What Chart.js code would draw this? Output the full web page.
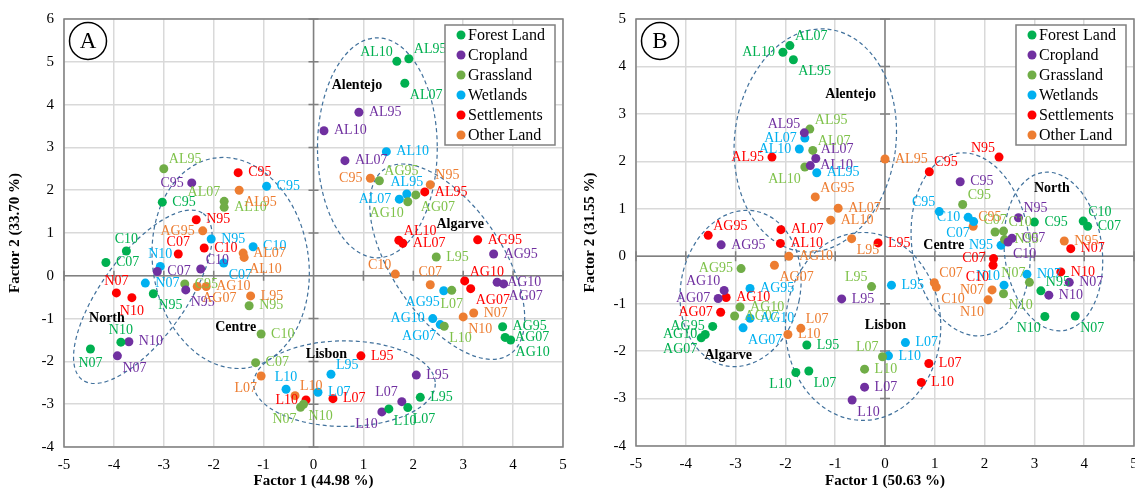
<!DOCTYPE html>
<html>
<head>
<meta charset="utf-8">
<script src="https://cdn.jsdelivr.net/npm/chart.js@4.4.1/dist/chart.umd.min.js"></script>
<style>
  body { margin: 0; background: #fff; }
  #wrap { position: relative; width: 1135px; height: 490px; overflow: hidden; }
  canvas { position: absolute; top: 0; }
</style>
</head>
<body>
<div id="wrap">
  <canvas id="chartA" width="570" height="490" style="left:0"></canvas>
  <canvas id="chartB" width="567" height="490" style="left:568px"></canvas>
</div>
<script>
const categories = ['Forest Land', 'Cropland', 'Grassland', 'Wetlands', 'Settlements', 'Other Land'];
const dotColors = ['#00b050', '#7030a0', '#70ad47', '#00b0f0', '#ff0000', '#ed7d31'];
const textColors = ['#00b050', '#7030a0', '#7fc24a', '#00b0f0', '#ff0000', '#ed7d31'];
const xTicks = [-5, -4, -3, -2, -1, 0, 1, 2, 3, 4, 5];
const yTicksA = [-4, -3, -2, -1, 0, 1, 2, 3, 4, 5, 6];
const yTicksB = [-4, -3, -2, -1, 0, 1, 2, 3, 4, 5];

// ---- panel A : [factor1, factor2, name]
const forestA = [[1.67,5.01,'AL10'],[1.91,5.07,'AL95'],[1.83,4.50,'AL07'],[-3.03,1.72,'C95'],[-3.75,0.58,'C10'],[-4.16,0.31,'C07'],[-3.21,-0.42,'N95'],[-3.86,-1.55,'N10'],[-4.47,-1.71,'N07'],[2.14,-2.84,'L95'],[1.89,-3.08,'L07'],[1.51,-3.11,'L10'],[3.79,-1.19,'AG95'],[3.84,-1.44,'AG07'],[3.95,-1.50,'AG10']];
const croplandA = [[0.91,3.82,'AL95'],[0.21,3.39,'AL10'],[0.63,2.69,'AL07'],[-2.44,2.17,'C95'],[-3.13,0.10,'C07'],[-2.26,0.16,'C10'],[-2.56,-0.33,'N95'],[-3.70,-1.54,'N10'],[-3.93,-1.87,'N07'],[2.06,-2.32,'L95'],[1.77,-2.94,'L07'],[1.37,-3.18,'L10'],[3.61,0.51,'AG95'],[3.68,-0.15,'AG10'],[3.81,-0.19,'AG07']];
const grasslandA = [[-3.00,2.50,'AL95'],[-1.79,1.74,'AL07'],[-1.79,1.60,'AL10'],[-2.58,-0.19,'C95'],[-1.29,-0.70,'N95'],[-1.05,-1.36,'C10'],[-1.16,-2.03,'C07'],[-0.26,-3.07,'N07'],[-0.20,-3.00,'N10'],[1.32,2.22,'AG95'],[2.05,1.89,'AG07'],[1.89,1.73,'AG10'],[2.46,0.44,'L95'],[2.77,-0.34,'L07'],[2.62,-1.18,'L10']];
const wetlandsA = [[-0.94,2.09,'C95'],[-2.05,0.86,'N95'],[-1.21,0.68,'C10'],[-1.80,0.30,'C07'],[-3.07,0.22,'N10'],[-3.37,-0.17,'N07'],[1.46,2.90,'AL10'],[1.87,1.91,'AL95'],[1.72,1.79,'AL07'],[2.61,-0.35,'AG95'],[2.39,-1.00,'AG10'],[2.54,-1.14,'AG07'],[0.35,-2.30,'L95'],[0.09,-2.72,'L07'],[-0.55,-2.65,'L10']];
const settlementsA = [[-1.51,2.41,'C95'],[-2.35,1.31,'N95'],[-2.71,0.51,'C07'],[-2.19,0.65,'C10'],[-3.95,-0.40,'N07'],[-3.64,-0.51,'N10'],[2.23,1.96,'AL95'],[1.71,0.83,'AL10'],[1.79,0.76,'AL07'],[3.29,0.84,'AG95'],[3.03,-0.12,'AG10'],[3.15,-0.30,'AG07'],[0.95,-1.87,'L95'],[0.39,-2.87,'L07'],[-0.15,-2.90,'L10']];
const otherA = [[-1.49,2.00,'AL95'],[-2.22,1.05,'AG95'],[-1.41,0.53,'AL07'],[-1.39,0.43,'AL10'],[-2.15,-0.25,'AG10'],[-2.33,-0.25,'AG07'],[-1.26,-0.47,'L95'],[-1.05,-2.34,'L07'],[-0.37,-2.80,'L10'],[1.14,2.28,'C95'],[2.34,2.13,'N95'],[1.64,0.04,'C10'],[2.34,-0.21,'C07'],[3.21,-0.87,'N07'],[3.00,-0.96,'N10']];

// ---- panel B
const forestB = [[-2.05,4.30,'AL10'],[-1.91,4.44,'AL07'],[-1.84,4.14,'AL95'],[-3.46,-1.48,'AG95'],[-3.61,-1.65,'AG10'],[-3.69,-1.72,'AG07'],[-1.57,-1.87,'L95'],[-1.79,-2.45,'L10'],[-1.53,-2.42,'L07'],[3.00,0.72,'C95'],[3.98,0.74,'C10'],[4.07,0.63,'C07'],[3.13,-0.73,'N95'],[3.21,-1.27,'N10'],[3.82,-1.26,'N07']];
const croplandB = [[-1.62,2.60,'AL95'],[-1.39,2.06,'AL07'],[-1.50,1.91,'AL10'],[-3.29,0.24,'AG95'],[-3.23,-0.72,'AG10'],[-3.35,-0.89,'AG07'],[-0.87,-0.90,'L95'],[-0.41,-2.76,'L07'],[-0.66,-3.03,'L10'],[1.51,1.57,'C95'],[2.68,0.81,'N95'],[2.55,0.38,'C07'],[2.47,0.30,'C10'],[3.29,-0.82,'N10'],[3.70,-0.55,'N07']];
const grasslandB = [[-1.51,2.68,'AL95'],[-1.45,2.23,'AL07'],[-1.61,1.88,'AL10'],[-2.89,-0.26,'AG95'],[-2.91,-1.07,'AG10'],[-3.02,-1.26,'AG07'],[-0.27,-0.64,'L95'],[-0.05,-2.12,'L07'],[-0.41,-2.38,'L10'],[1.56,1.09,'C95'],[2.21,0.51,'C07'],[2.38,0.53,'C10'],[2.40,0.35,'N95'],[2.90,-0.55,'N07'],[2.38,-0.79,'N10']];
const wetlandsB = [[-1.61,2.49,'AL07'],[-1.72,2.26,'AL10'],[-1.37,1.76,'AL95'],[-2.71,-0.68,'AG95'],[-2.71,-1.31,'AG10'],[-2.85,-1.51,'AG07'],[0.13,-0.61,'L95'],[0.41,-1.82,'L07'],[0.07,-2.10,'L10'],[1.09,0.94,'C95'],[1.67,0.82,'C10'],[1.78,0.73,'C07'],[2.33,0.23,'N95'],[2.39,-0.61,'N10'],[2.85,-0.38,'N07']];
const settlementsB = [[-2.27,2.09,'AL95'],[-2.09,0.56,'AL07'],[-2.10,0.27,'AL10'],[-3.55,0.44,'AG95'],[-3.19,-0.87,'AG10'],[-3.30,-1.18,'AG07'],[-0.14,0.28,'L95'],[0.88,-2.26,'L07'],[0.73,-2.66,'L10'],[0.89,1.78,'C95'],[2.29,2.09,'N95'],[2.18,-0.05,'C07'],[2.17,-0.19,'C10'],[3.53,-0.33,'N10'],[3.73,0.16,'N07']];
const otherB = [[0.00,2.05,'AL95'],[-1.40,1.25,'AG95'],[-0.94,1.01,'AL07'],[-1.09,0.76,'AL10'],[-1.93,0.00,'AG10'],[-2.22,-0.19,'AG07'],[-0.67,0.37,'L95'],[-1.69,-1.52,'L07'],[-1.95,-1.65,'L10'],[1.77,0.63,'C95'],[0.99,-0.56,'C07'],[1.03,-0.65,'C10'],[3.60,0.32,'N95'],[2.15,-0.71,'N07'],[2.07,-0.92,'N10']];

// where each name sits next to its dot (r, l, t, b, tr, tl, br, bl)
const placesA = [
  'tl tr br r t r br t b r br br r r br',
  'r r r l r tr br r br r tl bl r r br',
  'tr tl r r r r r bl br tr br bl r b br',
  'r r r br t r r t l bl l bl tr r t',
  'r r t r t b r tr r r tr br r r l',
  'br l r br r br r bl tr l tr tl t r br'
];
const placesB = [
  'l tr br l l bl r bl br r tr r tr bl br',
  'tl tr r r tl l r r br r tr r br r r',
  'tr tr bl l r r tl tl r tr t tr r tl br',
  'l l r r r br r r r tl l bl l tl r',
  'l r r tr r l r r r tr tl l bl r r',
  'r tr r r r br br tr r tr tr br r l bl'
];

// regional groupings: [centre x, centre y, half width (x units), half height (y units), tilt deg]
const ellipsesA = [[1.28,2.99,1.2,2.57,0],[2.68,0.33,2.24,1.29,56],[-1.66,0.30,1.56,2.48,-9],[-3.42,-0.49,2.06,0.98,-54],[0.62,-2.52,1.82,1.0,0]];
const ellipsesB = [[-1.40,2.44,1.62,2.36,7],[-2.90,-0.68,1.2,1.66,11],[-0.44,-1.48,1.56,1.98,0],[1.72,0.25,1.18,1.94,-8],[3.38,0.10,0.98,1.68,-7]];
const regionsA = [['Alentejo',0.87,4.46],['Algarve',2.94,1.21],['Lisbon',0.26,-1.83],['North',-4.14,-1.0],['Centre',-1.56,-1.2]];
const regionsB = [['Alentejo',-0.69,3.41],['Algarve',-3.15,-2.09],['Lisbon',0.01,-1.46],['Centre',1.18,0.23],['North',3.35,1.42]];

const SERIF = "'Liberation Serif', 'Times New Roman', serif";

function drawName(ctx, text, px, py, code) {
  let dx = 0, dy = 0, align = 'center';
  switch (code) {
    case 'r': dx = 10; align = 'left'; break;
    case 'l': dx = -8; align = 'right'; break;
    case 't': dy = -12; break;
    case 'b': dy = 14; break;
    case 'tr': dx = 5; dy = -9; align = 'left'; break;
    case 'tl': dx = -4; dy = -9; align = 'right'; break;
    case 'br': dx = 5; dy = 12; align = 'left'; break;
    case 'bl': dx = -4; dy = 12; align = 'right'; break;
  }
  ctx.textAlign = align;
  ctx.fillText(text, px + dx, py + dy);
}

function decor(panel) {
  return {
    id: 'decor',
    beforeDatasetsDraw(chart) {
      const { ctx, chartArea: a, scales: { x, y } } = chart;
      ctx.save();
      const x0 = x.getPixelForValue(0), y0 = y.getPixelForValue(0);
      ctx.strokeStyle = '#808080';
      ctx.lineWidth = 1.5;
      ctx.beginPath();
      ctx.moveTo(x0, a.top); ctx.lineTo(x0, a.bottom);
      ctx.moveTo(a.left, y0); ctx.lineTo(a.right, y0);
      x.ticks.forEach(t => { const p = x.getPixelForValue(t.value); ctx.moveTo(p, y0 - 5); ctx.lineTo(p, y0 + 5); });
      y.ticks.forEach(t => { const p = y.getPixelForValue(t.value); ctx.moveTo(x0 - 5, p); ctx.lineTo(x0 + 5, p); });
      ctx.stroke();
      ctx.strokeRect(a.left, a.top, a.width, a.height);

      // dashed ellipses
      ctx.strokeStyle = '#41719c';
      ctx.lineWidth = 1.2;
      ctx.setLineDash([4, 3]);
      panel.ellipses.forEach(e => {
        const cx = x.getPixelForValue(e[0]), cy = y.getPixelForValue(e[1]);
        const rx = Math.abs(x.getPixelForValue(e[2]) - x0);
        const ry = Math.abs(y.getPixelForValue(e[3]) - y0);
        ctx.beginPath();
        ctx.ellipse(cx, cy, rx, ry, e[4] * Math.PI / 180, 0, Math.PI * 2);
        ctx.stroke();
      });
      ctx.restore();
    },
    afterDatasetsDraw(chart) {
      const { ctx, chartArea: a, scales: { x, y } } = chart;
      ctx.save();
      ctx.font = '14px ' + SERIF;
      ctx.textBaseline = 'middle';
      chart.data.datasets.forEach((ds, i) => {
        const pos = panel.places[i].split(' ');
        ctx.fillStyle = textColors[i];
        chart.getDatasetMeta(i).data.forEach((pt, j) => drawName(ctx, ds.data[j].name, pt.x, pt.y, pos[j]));
      });

      // region names
      ctx.font = 'bold 14px ' + SERIF;
      ctx.fillStyle = '#000';
      ctx.textAlign = 'center';
      panel.regions.forEach(r => ctx.fillText(r[0], x.getPixelForValue(r[1]), y.getPixelForValue(r[2])));

      // legend box
      const lx = a.right - 118, ly = a.top + 6;
      ctx.fillStyle = '#fff';
      ctx.fillRect(lx, ly, 110, 120);
      ctx.strokeStyle = '#808080';
      ctx.lineWidth = 1.5;
      ctx.strokeRect(lx, ly, 110, 120);
      ctx.font = '16px ' + SERIF;
      ctx.textAlign = 'left';
      categories.forEach((c, i) => {
        const cy = ly + 10 + i * 20;
        ctx.fillStyle = dotColors[i];
        ctx.beginPath(); ctx.arc(lx + 16, cy, 4.5, 0, Math.PI * 2); ctx.fill();
        ctx.fillStyle = '#000';
        ctx.fillText(c, lx + 23, cy + 1);
      });

      // panel letter
      ctx.strokeStyle = '#000';
      ctx.lineWidth = 1.5;
      ctx.beginPath(); ctx.arc(a.left + 24, a.top + 22, 18.5, 0, Math.PI * 2); ctx.stroke();
      ctx.fillStyle = '#000';
      ctx.font = '23px ' + SERIF;
      ctx.textAlign = 'center';
      ctx.fillText(panel.letter, a.left + 24, a.top + 23);
      ctx.restore();
    }
  };
}

function noPad(s) {
  s.paddingLeft = 0; s.paddingRight = 0; s.paddingTop = 0; s.paddingBottom = 0;
}

function makeChart(id, series, panel, xTitle, yTitle, yTicks, pad, yWidth, xHeight) {
  const datasets = series.map((s, i) => ({
    label: categories[i],
    data: s.map(p => ({ x: p[0], y: p[1], name: p[2] })),
    backgroundColor: dotColors[i],
    borderWidth: 0,
    pointRadius: 4.5,
    pointHoverRadius: 4.5
  }));
  return new Chart(document.getElementById(id), {
    type: 'scatter',
    data: { datasets },
    options: {
      responsive: false,
      animation: false,
      events: [],
      layout: { padding: pad, autoPadding: false },
      plugins: { legend: { display: false }, tooltip: { enabled: false } },
      scales: {
        x: {
          type: 'linear', min: xTicks[0], max: xTicks[xTicks.length - 1],
          afterBuildTicks: s => { s.ticks = xTicks.map(v => ({ value: v })); },
          afterFit: s => { s.height = xHeight; noPad(s); },
          grid: { color: '#d9d9d9', lineWidth: 1.5, drawTicks: false },
          border: { display: false },
          ticks: { color: '#000', padding: 9, maxRotation: 0, font: { family: SERIF, size: 15 } },
          title: { display: true, text: xTitle, color: '#000', padding: 0, font: { family: SERIF, size: 15, weight: 'bold' } }
        },
        y: {
          type: 'linear', min: yTicks[0], max: yTicks[yTicks.length - 1],
          afterBuildTicks: s => { s.ticks = yTicks.map(v => ({ value: v })); },
          afterFit: s => { s.width = yWidth; noPad(s); },
          grid: { color: '#d9d9d9', lineWidth: 1.5, drawTicks: false },
          border: { display: false },
          ticks: { color: '#000', padding: 10, font: { family: SERIF, size: 15 } },
          title: { display: true, text: yTitle, color: '#000', padding: 0, font: { family: SERIF, size: 15, weight: 'bold' } }
        }
      }
    },
    plugins: [decor(panel)]
  });
}

makeChart('chartA',
  [forestA, croplandA, grasslandA, wetlandsA, settlementsA, otherA],
  { places: placesA, ellipses: ellipsesA, regions: regionsA, letter: 'A' },
  'Factor 1 (44.98 %)', 'Factor 2 (33.70 %)', yTicksA,
  { left: 6, top: 19, right: 7, bottom: 0 }, 58, 43);

makeChart('chartB',
  [forestB, croplandB, grasslandB, wetlandsB, settlementsB, otherB],
  { places: placesB, ellipses: ellipsesB, regions: regionsB, letter: 'B' },
  'Factor 1 (50.63 %)', 'Factor 2 (31.55 %)', yTicksB,
  { left: 13, top: 19, right: 1, bottom: 0 }, 55, 44);
</script>
</body>
</html>
